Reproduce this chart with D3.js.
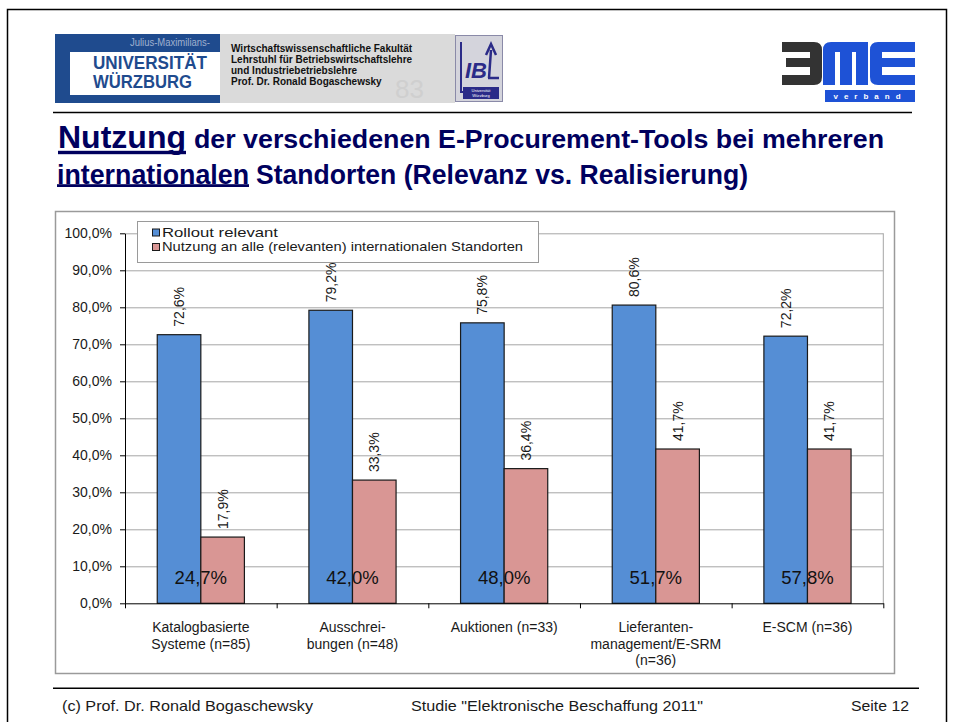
<!DOCTYPE html>
<html>
<head>
<meta charset="utf-8">
<script src="https://cdn.jsdelivr.net/npm/d3@7"></script>
<style>
  body { margin: 0; background: #fff; }
  svg { display: block; font-family: "Liberation Sans", Arial, sans-serif; }
</style>
</head>
<body>
<div id="chart"></div>
<script>
// chart data
const categories = [
    ["Katalogbasierte", "Systeme (n=85)"],
    ["Ausschrei-", "bungen (n=48)"],
    ["Auktionen (n=33)"],
    ["Lieferanten-", "management/E-SRM", "(n=36)"],
    ["E-SCM (n=36)"],
];
const series_names = ["Rollout relevant", "Nutzung an alle (relevanten) internationalen Standorten"];
const rollout_values = [72.6, 79.2, 75.8, 80.6, 72.2];
const nutzung_values = [17.9, 33.3, 36.4, 41.7, 41.7];
const ratio_values = [24.7, 42.0, 48.0, 51.7, 57.8];
const y_ticks = [0, 10, 20, 30, 40, 50, 60, 70, 80, 90, 100];

const colors = ["#558ed5", "#d99694"];

const plot = { left: 125, right: 883.3, top: 233.3, bottom: 603.3 };

const de = d3.formatLocale({ decimal: ",", thousands: ".", grouping: [3], currency: ["", "€"] });
const pct = (v) => de.format(".1f")(v) + "%";

const svg = d3.select("#chart").append("svg").attr("width", 954).attr("height", 722);

// slide frame
svg.append("rect").attr("x", 7.5).attr("y", 9.5).attr("width", 939).attr("height", 730)
    .attr("fill", "none").attr("stroke", "#000").attr("stroke-width", 1.5);

////////////////////////////////////////////////////////////////////////////////
// header
const header = svg.append("g");

// university logo
header.append("rect").attr("x", 55).attr("y", 34).attr("width", 165).attr("height", 69).attr("fill", "#1f4b8e");
header.append("rect").attr("x", 70).attr("y", 52).attr("width", 150).attr("height", 43).attr("fill", "#fff");
header.append("text").attr("x", 130).attr("y", 46).attr("font-size", 10).attr("fill", "#9fb0cf")
    .attr("textLength", 80).attr("lengthAdjust", "spacingAndGlyphs").text("Julius-Maximilians-");
header.append("text").attr("x", 93).attr("y", 68.5).attr("font-size", 17.5).attr("font-weight", "bold").attr("fill", "#1f4b8e")
    .attr("textLength", 114).attr("lengthAdjust", "spacingAndGlyphs").text("UNIVERSITÄT");
header.append("text").attr("x", 93).attr("y", 87.5).attr("font-size", 17.5).attr("font-weight", "bold").attr("fill", "#1f4b8e")
    .attr("textLength", 99).attr("lengthAdjust", "spacingAndGlyphs").text("WÜRZBURG");

// grey banner with faculty text
header.append("rect").attr("x", 220).attr("y", 34).attr("width", 235).attr("height", 69).attr("fill", "#dadada");
header.append("text").attr("x", 395).attr("y", 98).attr("font-size", 26).attr("fill", "#cfcfcf").text("83");
const faculty = [
    "Wirtschaftswissenschaftliche Fakultät",
    "Lehrstuhl für Betriebswirtschaftslehre",
    "und Industriebetriebslehre",
    "Prof. Dr. Ronald Bogaschewsky",
];
header.selectAll("text.fac").data(faculty).join("text").attr("class", "fac")
    .attr("x", 231).attr("y", (d, i) => 52 + i * 11)
    .attr("font-size", 10).attr("font-weight", "bold").attr("fill", "#111").text((d) => d);

// IBL logo
const ibl = header.append("g");
ibl.append("rect").attr("x", 455.5).attr("y", 35.5).attr("width", 47).attr("height", 66)
    .attr("fill", "#d4d4dc").attr("stroke", "#8a8aa8");
ibl.append("path").attr("d", "M461,42 V92 H498").attr("fill", "none").attr("stroke", "#2b2b88").attr("stroke-width", 2);
ibl.append("text").attr("x", 465).attr("y", 78).attr("font-size", 22).attr("font-weight", "bold")
    .attr("font-style", "italic").attr("fill", "#2b2b88").text("IB");
ibl.append("path").attr("d", "M489,78 L491,50 M486,55 L491,44 L496,55 M488,78 H499").attr("fill", "none")
    .attr("stroke", "#2b2b88").attr("stroke-width", 2.5);
ibl.append("rect").attr("x", 463).attr("y", 87).attr("width", 36).attr("height", 12).attr("fill", "#2b2b88");
ibl.append("text").attr("x", 481).attr("y", 92).attr("text-anchor", "middle").attr("font-size", 4).attr("fill", "#fff").text("Universität");
ibl.append("text").attr("x", 481).attr("y", 97).attr("text-anchor", "middle").attr("font-size", 4).attr("fill", "#fff").text("Würzburg");

// BME logo
const bme = header.append("g");
bme.append("path").attr("fill", "#333")
    .attr("d", "M782,42 H814 Q822,42 822,50 V77 Q822,85 814,85 H782 V75 H810 V67 H786 V58 H810 V52 H782 Z");
bme.append("path").attr("fill", "#1e52d6")
    .attr("d", "M823,85 V50 Q823,42 831,42 H868 V85 H856 V52 H852 V85 H840 V52 H835 V85 Z");
bme.append("path").attr("fill", "#1e52d6")
    .attr("d", "M915,42 H878 Q870,42 870,50 V77 Q870,85 878,85 H915 V75 H882 V67 H915 V58 H882 V52 H915 Z");
bme.append("rect").attr("x", 825).attr("y", 90).attr("width", 90).attr("height", 12).attr("fill", "#1e52d6");
bme.append("text").attr("x", 870).attr("y", 99).attr("text-anchor", "middle").attr("font-size", 8)
    .attr("font-weight", "bold").attr("fill", "#fff").attr("letter-spacing", 6).text("verband");

// separator
svg.append("line").attr("x1", 53).attr("x2", 912).attr("y1", 112.5).attr("y2", 112.5)
    .attr("stroke", "#000").attr("stroke-width", 1.5);

////////////////////////////////////////////////////////////////////////////////
// title
const title = svg.append("g").attr("fill", "#00005e").attr("font-weight", "bold");
title.append("text").attr("x", 58).attr("y", 148.3).attr("font-size", 32)
    .attr("textLength", 128).attr("lengthAdjust", "spacingAndGlyphs").text("Nutzung");
title.append("rect").attr("x", 58).attr("y", 150.8).attr("width", 128).attr("height", 3.4);
title.append("text").attr("x", 194).attr("y", 148.3).attr("font-size", 25)
    .attr("textLength", 690).attr("lengthAdjust", "spacingAndGlyphs")
    .text("der verschiedenen E-Procurement-Tools bei mehreren");
title.append("text").attr("x", 57).attr("y", 183.5).attr("font-size", 27)
    .attr("textLength", 192).attr("lengthAdjust", "spacingAndGlyphs").text("internationalen");
title.append("rect").attr("x", 57).attr("y", 184.2).attr("width", 192).attr("height", 2.8);
title.append("text").attr("x", 256).attr("y", 183.5).attr("font-size", 27)
    .attr("textLength", 492).attr("lengthAdjust", "spacingAndGlyphs")
    .text("Standorten (Relevanz vs. Realisierung)");

////////////////////////////////////////////////////////////////////////////////
// chart
svg.append("rect").attr("x", 55.5).attr("y", 211.5).attr("width", 839).attr("height", 462)
    .attr("fill", "#fff").attr("stroke", "#9a9a9a").attr("stroke-width", 1.5);

const x = d3.scaleBand().domain(d3.range(categories.length)).range([plot.left, plot.right]);
const x1 = d3.scaleBand().domain([0, 1]).range([0, x.bandwidth()]).paddingInner(0).paddingOuter(0.74);
const y = d3.scaleLinear().domain([0, 100]).range([plot.bottom, plot.top]);

// grid
svg.append("g").attr("transform", `translate(${plot.left},0)`)
    .call(d3.axisLeft(y).tickValues(y_ticks.slice(1)).tickSize(-(plot.right - plot.left)).tickFormat(""))
    .call((g) => g.select(".domain").remove())
    .call((g) => g.selectAll("line").attr("stroke", "#a6a6a6"));
svg.append("line").attr("x1", plot.right).attr("x2", plot.right).attr("y1", plot.top).attr("y2", plot.bottom)
    .attr("stroke", "#a6a6a6");

// y axis
svg.append("g").attr("transform", `translate(${plot.left},0)`)
    .call(d3.axisLeft(y).tickValues(y_ticks).tickSize(5).tickSizeOuter(0).tickPadding(8).tickFormat(pct))
    .call((g) => g.select(".domain").attr("stroke", "#000"))
    .call((g) => g.selectAll(".tick line").attr("stroke", "#000"))
    .call((g) => g.selectAll("text").attr("font-size", 14).attr("font-family", null).attr("fill", "#1a1a1a"));

// bars
const groups = svg.append("g").selectAll("g").data(categories).join("g")
    .attr("transform", (d, i) => `translate(${x(i)},0)`);
const series = [rollout_values, nutzung_values];
series.forEach((vals, s) => {
    groups.append("rect")
        .attr("x", x1(s)).attr("width", x1.bandwidth())
        .attr("y", (d, i) => y(vals[i])).attr("height", (d, i) => y(0) - y(vals[i]))
        .attr("fill", colors[s]).attr("stroke", "#1a1a1a").attr("stroke-width", 1.2);
    groups.append("text")
        .attr("transform", (d, i) => `translate(${x1(s) + x1.bandwidth() / 2 + 5},${y(vals[i]) - 8}) rotate(-90)`)
        .attr("font-size", 14).attr("fill", "#1a1a1a").text((d, i) => pct(vals[i]));
});
groups.append("text").attr("x", x.bandwidth() / 2).attr("y", 584).attr("text-anchor", "middle")
    .attr("font-size", 18.5).attr("fill", "#111").text((d, i) => pct(ratio_values[i]));

// x axis
const x_edges = d3.scaleLinear().domain([0, categories.length]).range([plot.left, plot.right]);
svg.append("g").attr("transform", `translate(0,${plot.bottom})`)
    .call(d3.axisBottom(x_edges).tickValues(d3.range(categories.length + 1)).tickSize(5).tickSizeOuter(0).tickFormat(""))
    .call((g) => g.selectAll("line, path").attr("stroke", "#000"));

groups.append("text").attr("text-anchor", "middle").attr("font-size", 14).attr("fill", "#1a1a1a")
    .selectAll("tspan").data((d) => d).join("tspan")
    .attr("x", x.bandwidth() / 2).attr("y", (d, i) => 632 + i * 16.5).text((d) => d);

// legend
const legend = svg.append("g");
legend.append("rect").attr("x", 137.5).attr("y", 221.5).attr("width", 401).attr("height", 41)
    .attr("fill", "#fff").attr("stroke", "#9a9a9a");
const items = legend.selectAll("g").data(series_names).join("g")
    .attr("transform", (d, i) => `translate(152,${228.5 + i * 14.5})`);
items.append("rect").attr("x", 0.5).attr("y", 0.5).attr("width", 7).attr("height", 7)
    .attr("fill", (d, i) => colors[i]).attr("stroke", "#1a1a1a");
items.append("text").attr("x", 10).attr("y", 8).attr("font-size", 13.5).attr("fill", "#1a1a1a")
    .attr("textLength", (d, i) => i ? 361 : 116).attr("lengthAdjust", "spacingAndGlyphs").text((d) => d);

////////////////////////////////////////////////////////////////////////////////
// footer
svg.append("line").attr("x1", 53).attr("x2", 919).attr("y1", 688.3).attr("y2", 688.3)
    .attr("stroke", "#000").attr("stroke-width", 1.5);
const footer = svg.append("g").attr("font-size", 15).attr("fill", "#1a1a1a");
footer.append("text").attr("x", 62).attr("y", 711).attr("textLength", 251).attr("lengthAdjust", "spacingAndGlyphs")
    .text("(c) Prof. Dr. Ronald Bogaschewsky");
footer.append("text").attr("x", 411).attr("y", 711).attr("textLength", 292).attr("lengthAdjust", "spacingAndGlyphs")
    .text("Studie \"Elektronische Beschaffung 2011\"");
footer.append("text").attr("x", 851).attr("y", 711).attr("textLength", 58).attr("lengthAdjust", "spacingAndGlyphs")
    .text("Seite 12");
</script>
</body>
</html>
